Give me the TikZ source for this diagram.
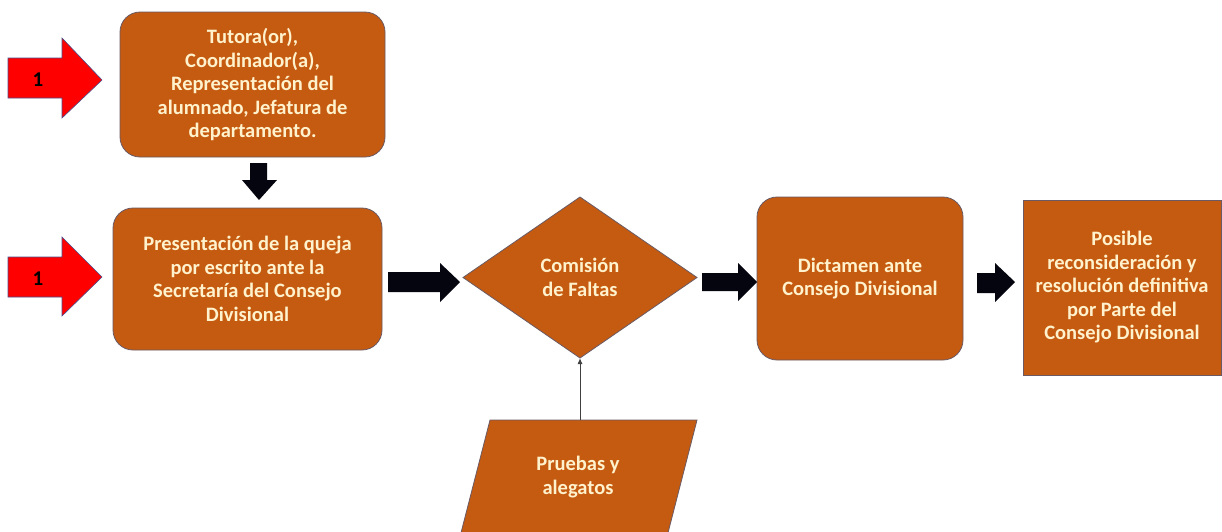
\documentclass[tikz,border=0pt]{standalone}
\usepackage{fontspec}
\setmainfont{Carlito}
\usetikzlibrary{arrows.meta}
\definecolor{boxfill}{HTML}{C55A11}
\definecolor{boxline}{HTML}{6B5A63}
\definecolor{txt}{HTML}{FFF2CC}
\definecolor{redarrow}{HTML}{FF0000}
\definecolor{redline}{HTML}{4A4E8C}
\definecolor{blk}{HTML}{05050F}
\begin{document}
\begin{tikzpicture}[x=1pt,y=-1pt,
  shp/.style={fill=boxfill,draw=boxline,line width=0.8pt},
  rbox/.style={shp,rounded corners=20pt,inner sep=0pt},
  sbox/.style={shp,inner sep=0pt},
  lbl/.style={text=txt,font=\bfseries\fontsize{20.5}{23.5}\selectfont,align=center,inner sep=0pt},
  num/.style={font=\bfseries\fontsize{21}{21}\selectfont,inner sep=0pt},
  redarr/.style={fill=redarrow,draw=redline,line width=0.6pt},
  blkarr/.style={fill=blk,draw=none},
  thin/.style={draw=black!75,line width=1pt,-{Latex[length=6pt,width=5pt]}}]
\useasboundingbox (0,0) rectangle (1222,531);
\clip (0,0) rectangle (1222,531);
\fill[white] (0,0) rectangle (1222,531);

% boxes
\node[rbox,minimum width=265pt,minimum height=145pt] (b1) at (252.5,84.5) {};
\node[lbl] at (b1.center) {Tutora(or),\\Coordinador(a),\\Representación del\\alumnado, Jefatura de\\departamento.};

\node[rbox,minimum width=269pt,minimum height=142pt] (b2) at (247.5,279) {};
\node[lbl] at (b2.center) {Presentación de la queja\\por escrito ante la\\Secretaría del Consejo\\Divisional};

\node[rbox,minimum width=206pt,minimum height=163pt] (b3) at (860,278.5) {};
\node[lbl] at (b3.center) {Dictamen ante\\Consejo Divisional};

\node[sbox,minimum width=198pt,minimum height=175pt] (b4) at (1122,287.5) {};
\node[lbl] at (b4.center) {Posible\\reconsideración y\\resolución definitiva\\por Parte del\\Consejo Divisional};

% diamond
\coordinate (dN) at (580,197);
\coordinate (dS) at (580,358);
\coordinate (dW) at (463,277.5);
\coordinate (dE) at (697,277.5);
\draw[shp] (dN) -- (dE) -- (dS) -- (dW) -- cycle;
\node[lbl] (dia) at (580,277.5) {Comisión\\de Faltas};

% parallelogram
\coordinate (pN) at (580,420);
\draw[shp] (490,420) -- (697,420) -- (661,560) -- (454,560) -- cycle;
\node[lbl] (par) at (578,477) {Pruebas y\\alegatos};

\draw[thin] (pN) -- (dS);

% red arrows
\draw[redarr] (8,58) -- (62,58) -- (62,38) -- (102,80) -- (62,118) -- (62,98) -- (8,98) -- cycle;
\node[num] (one1) at (38,80) {1};
\draw[redarr] (8,257) -- (62,257) -- (62,237) -- (102,277) -- (62,316) -- (62,297) -- (8,297) -- cycle;
\node[num] (one2) at (38,279) {1};

% black block arrows
\fill[blkarr] (250,163) -- (267,163) -- (267,180) -- (277,180) -- (259,200) -- (242,180) -- (250,180) -- cycle;
\fill[blkarr] (388,272) -- (440,272) -- (440,263) -- (460,282) -- (440,302) -- (440,292) -- (388,292) -- cycle;
\fill[blkarr] (702,273) -- (738,273) -- (738,263) -- (757,282) -- (738,301) -- (738,291) -- (702,291) -- cycle;
\fill[blkarr] (977,273) -- (995,273) -- (995,263) -- (1015,282) -- (995,302) -- (995,293) -- (977,293) -- cycle;
\end{tikzpicture}
\end{document}
